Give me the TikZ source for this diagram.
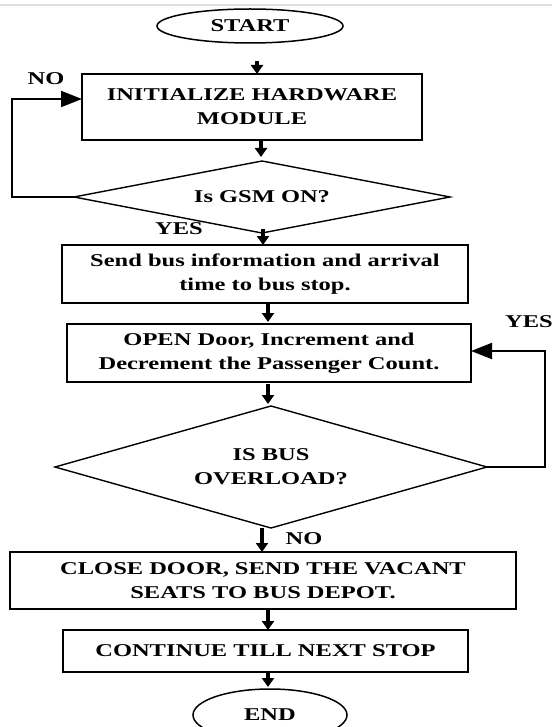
\documentclass[tikz,border=0pt]{standalone}
\usepackage{fontspec}
\setmainfont{Liberation Serif}[FakeStretch=1.36]
\usetikzlibrary{shapes.geometric,arrows.meta,calc}
\begin{document}
\begin{tikzpicture}[x=1pt,y=-1pt,
  every node/.style={font=\fontsize{18}{24}\selectfont\bfseries},
  box/.style={draw, line width=1.8pt, rectangle, inner sep=0pt, outer sep=0pt, align=center},
  term/.style={draw, line width=1.5pt, ellipse, inner sep=0pt, outer sep=0pt},
  dec/.style={draw, line width=1.4pt, diamond, inner sep=0pt, outer sep=0pt, align=center},
  arr/.style={line width=3.5pt, -{Triangle[width=12pt,length=9pt]}},
  back/.style={line width=2pt, -{Triangle[width=16pt,length=21pt]}},
  lbl/.style={inner sep=0pt}]
\useasboundingbox (0,0) rectangle (552,727);
\clip (0,0) rectangle (552,727);
\draw[gray!25, line width=2pt] (0,5) -- (552,5);

\node[term, minimum width=186pt, minimum height=34pt] (start) at (250,26) {START};
\node[box, minimum width=340pt, minimum height=66pt] (init) at (252,107) {INITIALIZE HARDWARE\\MODULE};
\node[dec, aspect=5.2, minimum width=376pt, minimum height=72pt] (gsm) at (262,197) {Is GSM ON?};
\node[box, minimum width=406pt, minimum height=58pt] (send) at (265,274) {Send bus information and arrival\\time to bus stop.};
\node[box, minimum width=404pt, minimum height=58pt] (open) at (269,353) {OPEN Door, Increment and\\Decrement the Passenger Count.};
\node[dec, aspect=3.54, minimum width=432pt, minimum height=122pt] (bus) at (271,467) {IS BUS\\OVERLOAD?};
\node[box, minimum width=506pt, minimum height=57pt] (close) at (263,580.5) {CLOSE DOOR, SEND THE VACANT\\SEATS TO BUS DEPOT.};
\node[box, minimum width=405pt, minimum height=42pt] (cont) at (265.5,651) {CONTINUE TILL NEXT STOP};
\node[term, minimum width=154pt, minimum height=52pt] (end) at (270,715) {END};

\node[lbl] (no1) at (46,79) {NO};
\node[lbl] (yes1) at (179,229) {YES};
\node[lbl] (yes2) at (529,322) {YES};
\node[lbl] (no2) at (304,539) {NO};

\coordinate (lp) at (12,150);
\coordinate (rp) at (545,400);

\draw[arr] ($(init.north)+(5,-13)$) -- ($(init.north)+(5,0)$);
\draw[arr] ($(gsm.north)+(-1,-21)$) -- ($(gsm.north)+(-1,-4)$);
\draw[arr] ($(send.north)+(-2,-16)$) -- ($(send.north)+(-2,0)$);
\draw[arr] ($(open.north)+(-1,-21)$) -- ($(open.north)+(-1,-2)$);
\draw[arr] ($(bus.north)+(-3,-22)$) -- ($(bus.north)+(-3,-2)$);
\draw[arr] ($(close.north)+(-1,-24)$) -- ($(close.north)+(-1,0)$);
\draw[arr] ($(cont.north)+(2.5,-21)$) -- ($(cont.north)+(2.5,0)$);
\draw[arr] ($(end.north)+(-2,-17)$) -- ($(end.north)+(-2,-2)$);

\draw[back] (gsm.west) -| (lp) |- ([yshift=8pt]init.west);
\draw[back] (bus.east) -| (rp) |- ([yshift=2pt]open.east);
\end{tikzpicture}
\end{document}
